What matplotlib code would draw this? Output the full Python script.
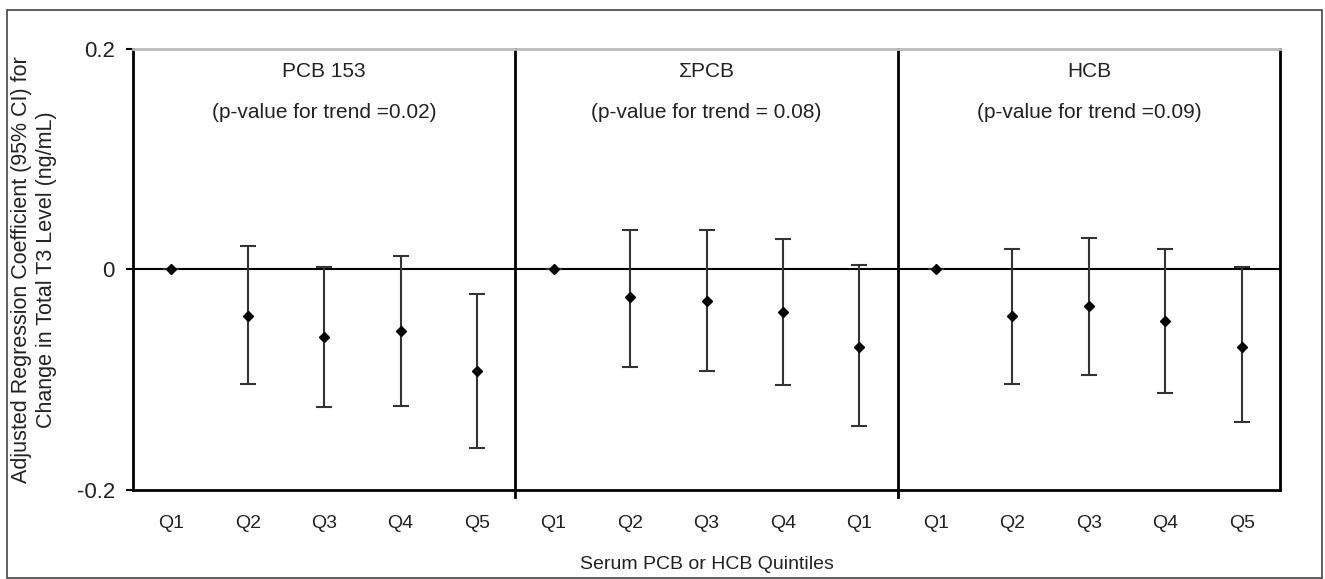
import numpy as np
import matplotlib.pyplot as plt
from matplotlib.patches import Rectangle

plt.rcParams['font.family'] = ['Liberation Sans', 'DejaVu Sans']

# exposure groups and quintile labels
groups = ["PCB 153", "\u03a3PCB", "HCB"]
p_trend = ["(p-value for trend =0.02)", "(p-value for trend = 0.08)", "(p-value for trend =0.09)"]
tick_labels = ["Q1", "Q2", "Q3", "Q4", "Q5",
               "Q1", "Q2", "Q3", "Q4", "Q1",
               "Q1", "Q2", "Q3", "Q4", "Q5"]

# regression coefficients and 95% CI bounds
coef = [0.0, -0.042, -0.061, -0.056, -0.092,
        0.0, -0.025, -0.029, -0.039, -0.070,
        0.0, -0.042, -0.033, -0.047, -0.070]
upper = [0.0, 0.021, 0.002, 0.012, -0.022,
         0.0, 0.036, 0.036, 0.028, 0.004,
         0.0, 0.019, 0.029, 0.019, 0.002]
lower = [0.0, -0.104, -0.125, -0.124, -0.162,
         0.0, -0.088, -0.092, -0.105, -0.142,
         0.0, -0.104, -0.096, -0.112, -0.138]

coef = np.array(coef)
x = np.arange(len(coef))
yerr = np.vstack([coef - np.array(lower), np.array(upper) - coef])

fig = plt.figure(figsize=(13.25, 5.79), dpi=100)
ax = fig.add_axes([0.1004, 0.1537, 0.8657, 0.7617])

# outer frame around the whole figure
fig.patches.append(Rectangle((0.005, 0.002), 0.993, 0.98, transform=fig.transFigure,
                             fill=False, edgecolor='#444444', linewidth=1.2))

ax.axhline(0, color='black', linewidth=1.5, zorder=1)
for sep in [4.5, 9.5]:
    ax.axvline(sep, ymin=-0.015, ymax=1, color='black', linewidth=2, clip_on=False)

ax.errorbar(x, coef, yerr=yerr, fmt='D', color='black', markersize=5,
            ecolor='#333333', elinewidth=1.5, capsize=6, capthick=1.5, zorder=3)

ax.set_xlim(-0.5, 14.5)
ax.set_ylim(-0.2, 0.2)
ax.set_yticks([-0.2, 0, 0.2])
ax.set_yticklabels(["-0.2", "0", "0.2"], fontsize=16, color='#222222')
ax.set_xticks(x)
ax.set_xticklabels(tick_labels, fontsize=14, color='#222222')
ax.tick_params(axis='x', length=0, pad=18)
ax.tick_params(axis='y', length=5, width=1.5, pad=8)

for side in ['left', 'right', 'bottom']:
    ax.spines[side].set_linewidth(2)
ax.spines['top'].set_color('#bbbbbb')
ax.spines['top'].set_linewidth(2)

for i, (g, p) in enumerate(zip(groups, p_trend)):
    cx = i * 5 + 2
    ax.text(cx, 0.180, g, ha='center', va='center', fontsize=15, color='#222222')
    ax.text(cx, 0.142, p, ha='center', va='center', fontsize=15, color='#222222')

ax.set_xlabel("Serum PCB or HCB Quintiles", fontsize=14, color='#222222', labelpad=17)
ax.set_ylabel("Adjusted Regression Coefficient (95% CI) for\nChange in Total T3 Level (ng/mL)",
              fontsize=15.5, color='#222222', labelpad=14, linespacing=1.25)

fig.savefig("out.png", dpi=100)
